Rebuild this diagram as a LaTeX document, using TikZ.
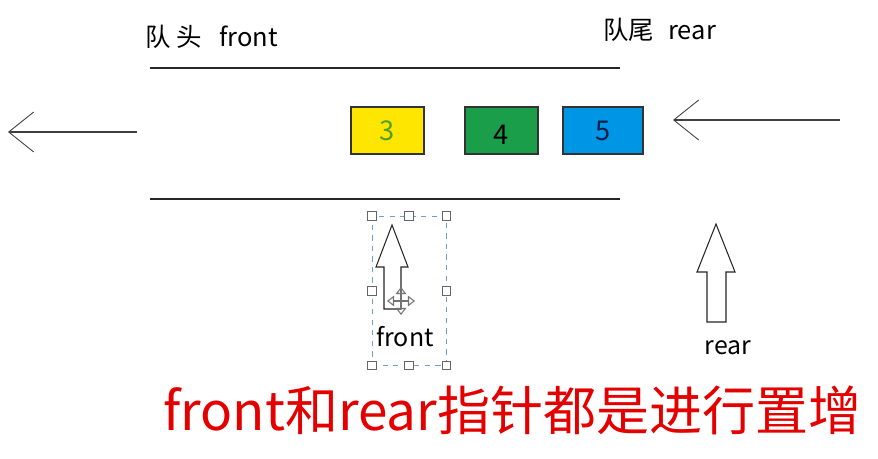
\documentclass[tikz,border=0pt]{standalone}
\usepackage{fontspec}
\setmainfont{Noto Sans CJK SC}
\usepackage{tikz}
\usetikzlibrary{arrows.meta, positioning, calc}
\definecolor{qyellow}{RGB}{255,230,0}
\definecolor{qgreen}{RGB}{26,158,74}
\definecolor{qblue}{RGB}{0,150,230}
\definecolor{numgreen}{RGB}{80,160,40}
\definecolor{numnavy}{RGB}{10,30,70}
\definecolor{selblue}{RGB}{110,160,200}
\tikzset{
  elem/.style={
    rectangle, draw=black!80, line width=0.6pt,
    minimum width=1.46cm, minimum height=0.94cm,
    inner sep=0pt, text centered, font=\fontsize{15.5}{15.5}\selectfont
  },
  title/.style={anchor=base west, inner sep=0pt, font=\fontsize{14.5}{14.5}\selectfont},
  ptrlabel/.style={inner sep=0pt, font=\fontsize{14.2}{14.2}\selectfont},
  wall/.style={line width=0.7pt, black!85},
  flow/.style={line width=0.7pt, black!75, -{Straight Barb[length=5mm, width=8mm, line width=0.5pt]}},
  blockarrow/.style={draw=black!85, line width=0.6pt, fill=white, line join=miter},
  handle/.style={draw=black!60, fill=white, line width=0.4pt, minimum size=5pt, inner sep=0pt},
}
\begin{document}
\begin{tikzpicture}[x=0.02cm, y=-0.02cm]
  \useasboundingbox (0,0) rectangle (878,459);

  % labels of the two ends
  \node (headtxt) [title] at (145,47) {队\hspace{3pt}头\hspace{10pt}front};
  \node (tailtxt) [title] at (603,40) {队尾\hspace{8pt}rear};

  % queue walls
  \coordinate (tl) at (150,68);  \coordinate (tr) at (620,68);
  \coordinate (bl) at (150,199); \coordinate (br) at (620,199);
  \draw [wall] (tl) -- (tr);
  \draw [wall] (bl) -- (br);

  % elements
  \node (q3) [elem, fill=qyellow, text=numgreen] at (387.5,130.5) {3};
  \node (q4) [elem, fill=qgreen, text=black, text height=16pt, text depth=0pt] at (501.5,130.5) {4};
  \node (q5) [elem, fill=qblue, text=numnavy, minimum width=1.6cm] at (603,130.5) {5};

  % in and out
  \coordinate (outs) at (137,132); \coordinate (oute) at (8,132);
  \coordinate (ins)  at (840,120); \coordinate (ine)  at (673,120);
  \draw [flow] (outs) -- (oute);
  \draw [flow] (ins) -- (ine);

  % front pointer (selected)
  \node (sel) [draw=selblue, dashed, line width=0.5pt, minimum width=1.48cm, minimum height=2.98cm] at (409,290.5) {};
  \foreach \a in {north west, north, north east, east, south east, south, south west, west}
    \node [handle] at (sel.\a) {};
  \draw [blockarrow] (392,225) -- (408,267) -- (401,267) -- (401,309) -- (384,309) -- (384,267) -- (376,267) -- cycle;
  \coordinate (mv) at (401,301);
  \draw [black!55, line width=0.6pt, {Triangle[open, length=4pt, width=6pt]}-{Triangle[open, length=4pt, width=6pt]}] ($(mv)+(-14,0)$) -- ($(mv)+(14,0)$);
  \draw [black!55, line width=0.6pt, {Triangle[open, length=4pt, width=6pt]}-{Triangle[open, length=4pt, width=6pt]}] ($(mv)+(0,-14)$) -- ($(mv)+(0,14)$);
  \node (fptr) [ptrlabel] at (405,337) {front};

  % rear pointer
  \draw [blockarrow] (716,224) -- (735,272) -- (726,272) -- (726,322) -- (707,322) -- (707,272) -- (697,272) -- cycle;
  \node (rptr) [ptrlabel] at (728,348) {rear};

  % note
  \node (note) [anchor=west, inner sep=0pt, text=red!90!black, font=\fontsize{30.2}{30.2}\selectfont] at (163,410) {front和rear指针都是进行置增};
\end{tikzpicture}
\end{document}
